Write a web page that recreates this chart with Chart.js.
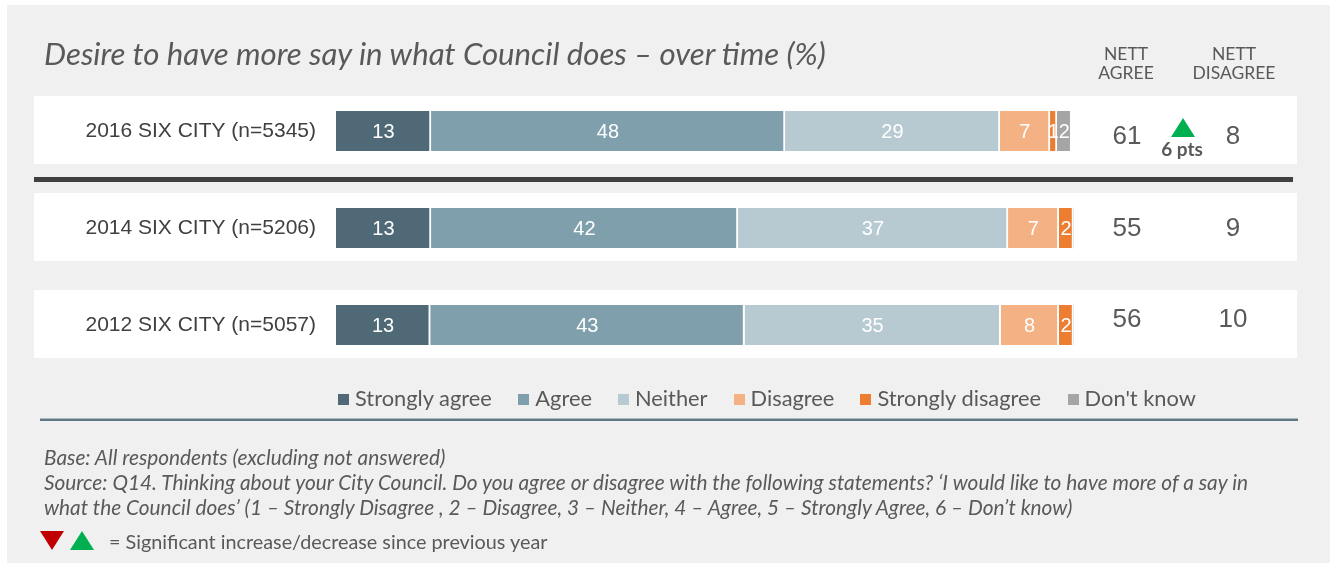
<!DOCTYPE html>
<html>
<head>
<meta charset="utf-8">
<script src="https://cdn.jsdelivr.net/npm/chart.js@4.4.1/dist/chart.umd.min.js"></script>
<style>
  html, body { margin: 0; padding: 0; }
  body { width: 1333px; height: 563px; background: #ffffff; position: relative; overflow: hidden; font-family: Lato, sans-serif; }
  #panel { position: absolute; left: 7px; top: 5px; width: 1323px; height: 558px; background: #f0f0f0; }
  #c { position: absolute; left: 0; top: 0; }
  .abs { position: absolute; }
  #rule { position: absolute; left: 40px; top: 418px; width: 1258px; height: 1px; background: #aab8c0; border-bottom: 2px solid #5f7685; }
  .tri-down { position: absolute; width: 0; height: 0; border-left: 12px solid transparent; border-right: 12px solid transparent; border-top: 19px solid #c00000; }
  .tri-up { position: absolute; width: 0; height: 0; border-left: 12px solid transparent; border-right: 12px solid transparent; border-bottom: 19px solid #00b050; }
</style>
</head>
<body>
<div id="panel"></div>
<canvas id="c" width="1333" height="563"></canvas>
<div id="rule"></div>
<div class="tri-down" style="left:40px;top:531px;"></div>
<div class="tri-up" style="left:70px;top:531px;"></div>
<div id="texts"></div>
<script>
// ---------- DATA ----------
const categories = ['2016 SIX CITY (n=5345)', '2014 SIX CITY (n=5206)', '2012 SIX CITY (n=5057)'];
const seriesNames = ['Strongly agree', 'Agree', 'Neither', 'Disagree', 'Strongly disagree', "Don't know"];
const stronglyAgree = [12.9, 12.9, 12.8];
const agree = [48.1, 41.7, 42.7];
const neither = [29.2, 36.7, 34.8];
const disagree = [6.8, 6.9, 7.9];
const stronglyDisagree = [0.95, 2.0, 2.0];
const dontKnow = [2.0, 0, 0];
const nettAgree = [61, 55, 56];
const nettDisagree = [8, 9, 10];
const changePts = [6, null, null];
const xTicks = [0, 100];

// ---------- STYLE ----------
const seriesColors = ['#506977', '#7f9fad', '#b7c9d1', '#f4b183', '#ed7d31', '#a5a5a5'];
const seriesValues = [stronglyAgree, agree, neither, disagree, stronglyDisagree, dontKnow];
const textGrey = '#595959';
const nettRowShift = [5, 0, -6];

// ---------- TEXT HELPERS ----------
const mctx = document.createElement('canvas').getContext('2d');
function measure(text, font) { mctx.font = font; return mctx.measureText(text).width; }
function fontStr(o, size) { return `${o.style || 'normal'} ${o.weight || 400} ${size}px ${o.family || 'Lato'}`; }
function fitSize(text, o, base, target) { return base * target / measure(text, fontStr(o, base)); }
function addText(text, o) {
  const size = o.size;
  const w = measure(text, fontStr(o, size));
  const d = document.createElement('div');
  d.className = 'abs';
  d.textContent = text;
  d.style.whiteSpace = 'pre';
  d.style.font = fontStr(o, size);
  d.style.lineHeight = '1';
  d.style.color = o.color || textGrey;
  d.style.top = (o.baseline - 0.887 * size) + 'px';
  let left = o.x;
  if (o.align === 'center') left = o.x - w / 2;
  if (o.align === 'right') left = o.x - w;
  d.style.left = left + 'px';
  document.getElementById('texts').appendChild(d);
  return w;
}

// Title
const titleText = 'Desire to have more say in what Council does \u2013 over time (%)';
const titleO = { style: 'italic', family: 'Lato' };
titleO.size = fitSize(titleText, titleO, 26, 784);
addText(titleText, Object.assign({ x: 44, baseline: 66 }, titleO));

// NETT headers
const hdrO = { family: 'Lato' };
hdrO.size = fitSize('DISAGREE', hdrO, 17, 83);
addText('NETT', Object.assign({ x: 1126, baseline: 61, align: 'center' }, hdrO));
addText('AGREE', Object.assign({ x: 1126, baseline: 80, align: 'center' }, hdrO));
addText('NETT', Object.assign({ x: 1234, baseline: 61, align: 'center' }, hdrO));
addText('DISAGREE', Object.assign({ x: 1234, baseline: 80, align: 'center' }, hdrO));

// Legend (built from series names/colours)
const legO = { family: 'Lato' };
const legBox = 11, legBoxGap = 6, legItemGap = 26, legLeft = 338, legRight = 1196;
const sumW20 = seriesNames.reduce((a, n) => a + measure(n, fontStr(legO, 20)), 0);
legO.size = 20 * (legRight - legLeft - seriesNames.length * (legBox + legBoxGap) - (seriesNames.length - 1) * legItemGap) / sumW20;
let lx = legLeft;
seriesNames.forEach((n, i) => {
  const sq = document.createElement('div');
  sq.className = 'abs';
  Object.assign(sq.style, { left: lx + 'px', top: '394px', width: legBox + 'px', height: legBox + 'px', background: seriesColors[i] });
  document.getElementById('texts').appendChild(sq);
  const w = addText(n, Object.assign({ x: lx + legBox + legBoxGap, baseline: 406 }, legO));
  lx += legBox + legBoxGap + w + legItemGap;
});

// Footnotes
const footLines = [
  'Base: All respondents (excluding not answered)',
  'Source: Q14. Thinking about your City Council. Do you agree or disagree with the following statements? \u2018I would like to have more of a say in',
  'what the Council does\u2019 (1 \u2013 Strongly Disagree , 2 \u2013 Disagree, 3 \u2013 Neither, 4 \u2013 Agree, 5 \u2013 Strongly Agree, 6 \u2013 Don\u2019t know)'
];
const footO = { style: 'italic', family: 'Lato' };
footO.size = fitSize(footLines[1], footO, 17, 1209);
footLines.forEach((t, i) => addText(t, Object.assign({ x: 44, baseline: 465 + i * 25 }, footO)));
const sigText = '= Significant increase/decrease since previous year';
const sigO = { family: 'Lato' };
sigO.size = fitSize(sigText, sigO, 18, 439);
addText(sigText, Object.assign({ x: 109, baseline: 550 }, sigO));

// ---------- CHART PLUGINS ----------
const rowDecor = {
  id: 'rowDecor',
  beforeDraw(chart) {
    const { ctx, scales: { y } } = chart;
    ctx.save();
    ctx.fillStyle = '#ffffff';
    categories.forEach((c, i) => {
      const yc = y.getPixelForValue(i);
      ctx.fillRect(34, yc - 35, 1263, 68);
    });
    const sep = (y.getPixelForValue(0) + y.getPixelForValue(1)) / 2;
    ctx.fillStyle = '#404040';
    ctx.fillRect(34, sep - 2.5, 1259, 5);
    ctx.restore();
  }
};

const barLabels = {
  id: 'barLabels',
  afterDatasetsDraw(chart) {
    const { ctx } = chart;
    ctx.save();
    ctx.fillStyle = '#ffffff';
    ctx.font = "20px 'Liberation Sans', Arial, sans-serif";
    ctx.textAlign = 'center';
    ctx.textBaseline = 'middle';
    chart.data.datasets.forEach((ds, di) => {
      const meta = chart.getDatasetMeta(di);
      meta.data.forEach((el, i) => {
        const v = ds.data[i];
        if (!v) return;
        const p = el.getProps(['x', 'base', 'y'], true);
        ctx.fillText(String(Math.round(v)), (p.x + p.base) / 2, p.y + 1);
      });
    });
    ctx.restore();
  }
};

const nettCols = {
  id: 'nettCols',
  afterDraw(chart) {
    const { ctx, scales: { y } } = chart;
    ctx.save();
    ctx.textAlign = 'center';
    categories.forEach((c, i) => {
      const yc = y.getPixelForValue(i);
      ctx.fillStyle = textGrey;
      ctx.textBaseline = 'middle';
      ctx.font = "26px 'Liberation Sans', Arial, sans-serif";
      ctx.fillText(String(nettAgree[i]), 1127, yc + 1 + nettRowShift[i]);
      ctx.fillText(String(nettDisagree[i]), 1233, yc + 1 + nettRowShift[i]);
      if (changePts[i] !== null) {
        ctx.fillStyle = changePts[i] > 0 ? '#00b050' : '#c00000';
        ctx.beginPath();
        if (changePts[i] > 0) {
          ctx.moveTo(1183, yc - 13); ctx.lineTo(1195, yc + 6); ctx.lineTo(1171, yc + 6);
        } else {
          ctx.moveTo(1171, yc - 13); ctx.lineTo(1195, yc - 13); ctx.lineTo(1183, yc + 6);
        }
        ctx.closePath();
        ctx.fill();
        ctx.fillStyle = textGrey;
        ctx.font = "700 19px Lato, sans-serif";
        ctx.textBaseline = 'alphabetic';
        ctx.fillText(Math.abs(changePts[i]) + ' pts', 1182, yc + 25);
      }
    });
    ctx.restore();
  }
};

// ---------- CHART ----------
new Chart(document.getElementById('c'), {
  type: 'bar',
  data: {
    labels: categories,
    datasets: seriesNames.map((name, i) => ({
      label: name,
      data: seriesValues[i],
      backgroundColor: seriesColors[i],
      borderColor: '#ffffff',
      borderWidth: { top: 0, bottom: 0, left: 0, right: 2 },
      borderSkipped: false,
      barThickness: 40,
      clip: false
    }))
  },
  options: {
    indexAxis: 'y',
    responsive: false,
    animation: false,
    devicePixelRatio: 1,
    layout: { padding: { left: 0, right: 261, top: 82.5, bottom: 189.5 } },
    scales: {
      x: { stacked: true, min: xTicks[0], max: xTicks[1], display: false },
      y: {
        stacked: true,
        grid: { display: false, drawTicks: false },
        border: { display: false },
        ticks: { padding: 20, color: '#404040', font: { family: "'Liberation Sans', Arial, sans-serif", size: 21 } },
        afterFit: (s) => { s.width = 336; }
      }
    },
    plugins: { legend: { display: false }, tooltip: { enabled: false } }
  },
  plugins: [rowDecor, barLabels, nettCols]
});
</script>
</body>
</html>
